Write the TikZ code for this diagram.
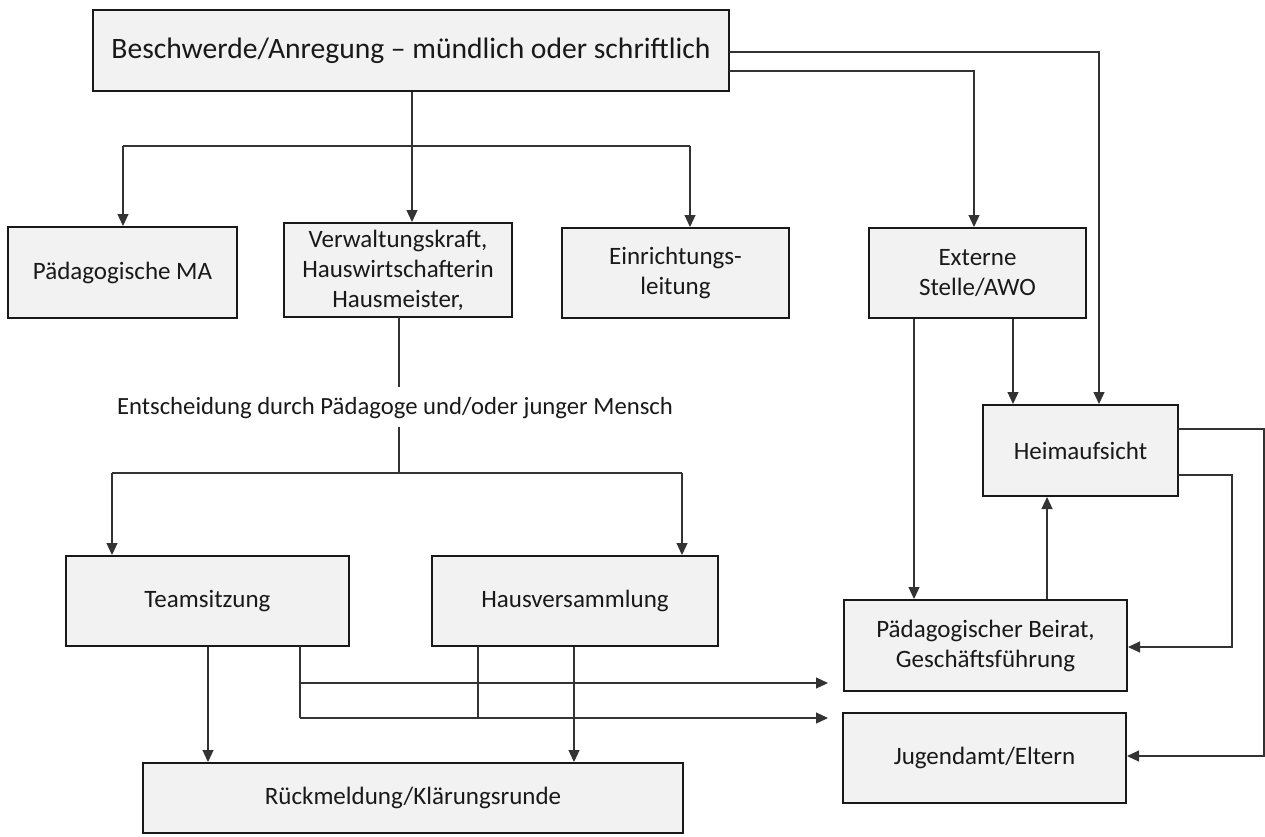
\documentclass[tikz,border=0pt]{standalone}
\usepackage{fontspec}
\setmainfont{Carlito}
\usetikzlibrary{arrows.meta}
\begin{document}
\begin{tikzpicture}[x=1pt,y=-1pt,
  box/.style={draw=black!90,line width=2pt,fill=black!5,align=center,inner sep=2pt,
    font=\fontsize{25}{30}\selectfont,text=black!90},
  conn/.style={draw=black!80,line width=1.2pt},
  arr/.style={conn,-{Triangle[length=12pt,width=11pt]}},
  lbl/.style={font=\fontsize{24.7}{30}\selectfont,text=black!90,inner sep=0pt}]
\useasboundingbox (0,0) rectangle (1265,836);
% boxes
\node[box,minimum width=636pt,minimum height=81pt,font=\fontsize{29.6}{34}\selectfont] (top) at (411,50.5) {Beschwerde/Anregung -- mündlich oder schriftlich};
\node[box,minimum width=229pt,minimum height=91pt] (pma) at (122.5,272.5) {Pädagogische MA};
\node[box,minimum width=228pt,minimum height=94pt] (verw) at (398,270) {Verwaltungskraft,\\Hauswirtschafterin\\Hausmeister,};
\node[box,minimum width=227pt,minimum height=90pt] (einr) at (675.5,273) {Einrichtungs-\\leitung};
\node[box,minimum width=217pt,minimum height=90pt] (ext) at (977.5,273) {Externe\\Stelle/AWO};
\node[box,minimum width=195pt,minimum height=91pt] (heim) at (1080.5,450.5) {Heimaufsicht};
\node[box,minimum width=283pt,minimum height=90pt] (team) at (207.5,601) {Teamsitzung};
\node[box,minimum width=286pt,minimum height=90pt] (haus) at (575,601) {Hausversammlung};
\node[box,minimum width=283pt,minimum height=91pt] (beirat) at (985.5,645.5) {Pädagogischer Beirat,\\Geschäftsführung};
\node[box,minimum width=283pt,minimum height=90pt] (jug) at (984.5,758) {Jugendamt/Eltern};
\node[box,minimum width=540pt,minimum height=70pt] (rueck) at (413,798) {Rückmeldung/Klärungsrunde};
\node[lbl] (ent) at (395,408) {Entscheidung durch Pädagoge und/oder junger Mensch};
% coordinates
\coordinate (c412) at (412,146);
\coordinate (bL) at (123,146);
\coordinate (bR) at (690,146);
\coordinate (e1) at (729,52);
\coordinate (e1c) at (1099,52);
\coordinate (e2) at (729,71);
\coordinate (e2c) at (974,71);
\coordinate (x914) at (914,0);
\coordinate (x1013) at (1013,0);
\coordinate (x1047) at (1047,0);
\coordinate (h1) at (1178,475);
\coordinate (h1c) at (1232,475);
\coordinate (h1d) at (1232,647);
\coordinate (h2) at (1178,429);
\coordinate (h2c) at (1264,429);
\coordinate (h2d) at (1264,756);
\coordinate (v1) at (399,317);
\coordinate (v2) at (399,387);
\coordinate (v3) at (399,427);
\coordinate (v4) at (399,473);
\coordinate (sL) at (112,473);
\coordinate (sR) at (682,473);
\coordinate (x208) at (208,0);
\coordinate (x574) at (574,0);
\coordinate (tA) at (300,646);
\coordinate (tB) at (300,683);
\coordinate (tC) at (300,718);
\coordinate (tBe) at (828,683);
\coordinate (tCe) at (828,718);
\coordinate (hA) at (478,646);
\coordinate (hB) at (478,718);
% connectors
\draw[arr] (top.south -| c412) -- (c412 |- verw.north);
\draw[conn] (bL) -- (bR);
\draw[arr] (bL) -- (bL |- pma.north);
\draw[arr] (bR) -- (bR |- einr.north);
\draw[arr] (e2) -- (e2c) -- (e2c |- ext.north);
\draw[arr] (e1) -- (e1c) -- (e1c |- heim.north);
\draw[arr] (x1013 |- ext.south) -- (x1013 |- heim.north);
\draw[arr] (x914 |- ext.south) -- (x914 |- beirat.north);
\draw[arr] (x1047 |- beirat.north) -- (x1047 |- heim.south);
\draw[arr] (h1) -- (h1c) -- (h1d) -- (h1d -| beirat.east);
\draw[arr] (h2) -- (h2c) -- (h2d) -- (h2d -| jug.east);
\draw[conn] (v1) -- (v2);
\draw[conn] (v3) -- (v4);
\draw[conn] (sL) -- (sR);
\draw[arr] (sL) -- (sL |- team.north);
\draw[arr] (sR) -- (sR |- haus.north);
\draw[arr] (x208 |- team.south) -- (x208 |- rueck.north);
\draw[arr] (x574 |- haus.south) -- (x574 |- rueck.north);
\draw[conn] (tA) -- (tC);
\draw[arr] (tB) -- (tBe);
\draw[arr] (tC) -- (tCe);
\draw[conn] (hA) -- (hB);
\end{tikzpicture}
\end{document}
